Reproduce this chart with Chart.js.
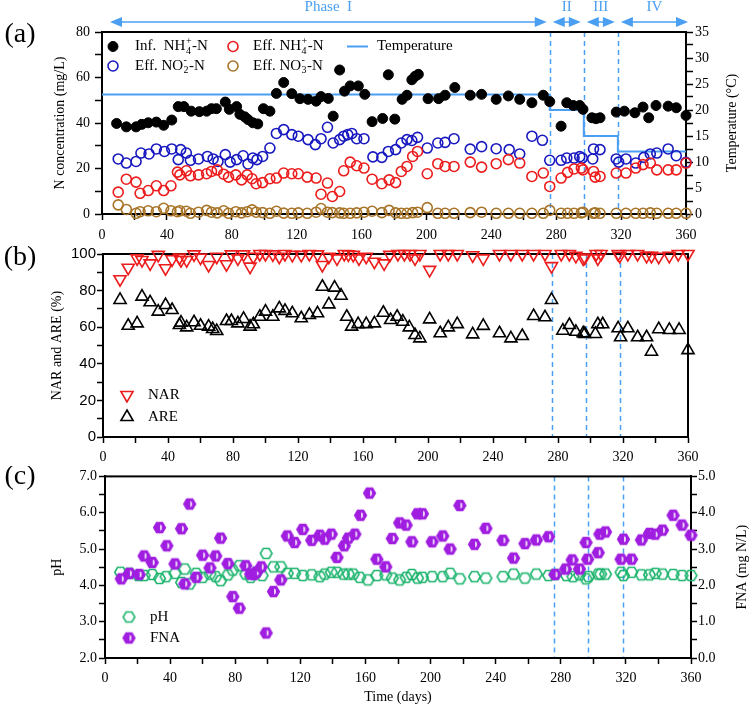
<!DOCTYPE html>
<html>
<head>
<meta charset="utf-8">
<title>Reactor performance</title>
<script src="https://cdn.jsdelivr.net/npm/chart.js@4.4.1/dist/chart.umd.min.js"></script>
<style>
  body { margin: 0; background: #fff; }
  #wrap { position: relative; width: 750px; height: 706px; overflow: hidden; }
  canvas { position: absolute; left: 0; }
</style>
</head>
<body>
<div id="wrap">
  <canvas id="chartA" width="750" height="243" style="top:0"></canvas>
  <canvas id="chartB" width="750" height="223" style="top:243px"></canvas>
  <canvas id="chartC" width="750" height="240" style="top:466px"></canvas>
</div>
<script>
// ---------------- data: panel (a) nitrogen ----------------
const infDays = [9, 15, 21, 24.5, 28.5, 33.5, 38, 43, 47, 50.5, 55, 60, 64.5, 67.5, 70.5, 76, 78.5, 83, 85, 88, 90, 93, 96, 99.5, 103.5, 107.5, 112, 117, 122, 127, 132, 135, 139.5, 142.5, 146.5, 149.5, 153, 158, 162, 166.5, 173, 176.5, 180.5, 185, 188, 191, 193, 195, 201, 207.5, 211.5, 217.5, 227, 234, 243, 250.5, 257.5, 265, 272, 276, 283, 286.5, 290.5, 294.5, 296.5, 302, 304.5, 307, 317, 322, 328.5, 333.5, 337, 341.5, 349, 354, 360];
const infVals = [39.8, 38.3, 38.3, 39.4, 40.1, 40.4, 39.0, 41.3, 47.2, 47.2, 45.2, 45.0, 45.2, 46.3, 46.3, 49.2, 46.0, 47.2, 43.8, 42.7, 41.5, 40.1, 39.6, 46.3, 45.2, 53.0, 57.8, 52.9, 50.7, 50.4, 49.6, 51.6, 50.8, 43.0, 63.3, 54.0, 56.3, 56.3, 52.6, 40.6, 42.0, 61.2, 41.7, 50.4, 52.2, 59.0, 60.5, 61.4, 50.7, 50.7, 52.2, 55.6, 52.2, 52.6, 50.4, 51.9, 50.4, 48.9, 52.2, 49.4, 38.6, 48.9, 47.7, 47.7, 46.0, 42.3, 41.9, 42.3, 44.8, 45.2, 44.5, 47.0, 42.3, 47.7, 47.4, 46.7, 43.3];

const nh4Days = [10, 15, 21, 23.5, 28.5, 33.5, 38, 42.5, 46.5, 48, 52, 54.5, 59.5, 64.5, 67.5, 71, 75, 78, 82.5, 86, 89.5, 92.5, 95, 99, 103.5, 107.5, 112, 117, 121, 126.5, 132, 135, 139, 142, 146.5, 149, 153, 157, 161.5, 166.5, 172.5, 177, 181, 184.5, 188, 191.5, 194.5, 200.5, 207, 211.5, 217, 227, 234, 243, 250.5, 257.5, 265, 272, 276, 283, 287, 291, 295.5, 296.5, 303, 304, 307, 317, 323, 329, 333.5, 338, 342, 349, 354, 360];
const nh4Vals = [9.6, 15.3, 14.0, 9.1, 10.3, 12.4, 10.3, 12.4, 18.4, 17.2, 19.0, 16.8, 17.2, 17.7, 18.7, 19.4, 17.5, 16.2, 17.2, 15.0, 17.2, 15.5, 13.3, 13.8, 15.5, 15.8, 18.0, 17.7, 17.7, 16.2, 15.8, 8.7, 13.6, 7.7, 9.9, 19.0, 22.8, 21.2, 20.2, 15.3, 13.3, 15.0, 13.8, 18.7, 20.9, 25.3, 27.5, 17.7, 22.1, 20.9, 20.9, 22.8, 20.6, 22.1, 23.9, 22.4, 16.5, 18.0, 12.1, 15.8, 18.3, 19.8, 20.2, 19.4, 18.7, 16.2, 16.5, 18.0, 18.0, 20.2, 21.7, 22.4, 19.4, 19.4, 19.4, 22.4];

const no2Days = [10, 15, 21, 24, 29, 33.5, 38.5, 43, 47, 48.5, 52, 54.5, 59.5, 65, 68.5, 71.5, 76, 79, 83, 87, 90, 93, 95.5, 99, 103.5, 107.5, 112, 117, 121, 127, 131.5, 135, 139, 142.5, 146.5, 149, 151.5, 154, 157, 161.5, 167, 172.5, 176.5, 181, 184.5, 188, 191, 194.5, 200.5, 207, 211.5, 217, 227, 234, 243, 251, 257.5, 265, 271.5, 276, 283, 286.5, 291, 294.5, 296, 302.5, 303, 307, 317, 318.5, 323, 329, 334, 338, 342, 349, 354, 360];
const no2Vals = [24.2, 22.4, 23.1, 26.8, 26.4, 28.6, 27.5, 28.6, 23.9, 28.3, 26.8, 23.6, 24.2, 25.3, 24.2, 23.1, 26.1, 22.8, 23.9, 25.6, 22.0, 24.6, 23.9, 25.3, 29.0, 35.4, 37.1, 34.9, 34.2, 32.7, 30.5, 33.1, 38.1, 31.2, 32.7, 34.2, 34.9, 35.4, 33.1, 33.1, 25.1, 24.9, 27.5, 28.3, 31.2, 32.7, 32.3, 33.7, 29.0, 31.2, 31.5, 33.1, 28.5, 29.6, 28.7, 28.3, 26.4, 34.2, 32.4, 23.6, 23.6, 24.6, 24.6, 25.2, 24.6, 24.2, 28.6, 28.3, 24.2, 22.8, 24.2, 22.4, 24.9, 26.4, 26.8, 28.6, 25.6, 22.7];

const no3Days = nh4Days;
const no3Vals = [4.0, 2.0, 0.3, 1.0, 1.4, 1.0, 2.5, 1.4, 1.0, 1.4, 1.2, 0.3, 0.8, 1.6, 0.8, 0.5, 1.4, 0.3, 1.0, 0.5, 1.0, 1.8, 0.8, 0.6, 0.3, 1.2, 0.4, 0.3, 0.5, 0.3, 0.8, 2.4, 0.8, 0.6, 0.5, 0.3, 0.3, 0.5, 0.8, 1.2, 0.6, 1.6, 0.5, 0.3, 0.3, 0.6, 0.8, 2.8, 0.3, 0.3, 0.3, 0.6, 0.8, 0.3, 0.3, 0.3, 0.3, 0.3, 1.6, 0.3, 0.3, 0.3, 0.5, 0.8, 0.3, 0.5, 0.3, 0.3, 0.3, 0.3, 0.3, 0.5, 0.3, 0.3, 0.3, 0.3];

// temperature steps (°C), each value holds until the next day
const tempDays = [0, 276, 297, 318, 360];
const tempVals = [23, 20, 15, 12, 12];

// phase boundaries (days)
const phaseEdges = [0, 276, 297, 318, 360];
const phaseNames = ['Phase  I', 'II', 'III', 'IV'];

// ---------------- data: panel (b) NAR / ARE ----------------
const narDays = [10.5, 15.5, 21, 24, 29, 34, 38.5, 42.5, 47, 48, 51.5, 56, 60, 65, 70, 76, 79, 83, 86.5, 90.5, 92.5, 96.5, 100, 104.5, 108.5, 112, 116.5, 122, 127, 132, 135, 139, 144, 148.5, 151, 154, 157.5, 162, 167, 173, 176.5, 181.5, 185.5, 189, 192, 195, 201, 207.5, 212.5, 218, 227.5, 234, 244, 251, 258, 265, 272, 276, 282, 287, 291, 295.5, 296.5, 303.5, 304.5, 306.5, 317, 318, 323, 329, 334.5, 337.5, 342, 348.5, 354, 360];
const narVals = [86.2, 92.5, 97.6, 96.7, 94.9, 99.5, 92.2, 97.1, 98.0, 96.7, 96.7, 99.8, 98.0, 94.0, 98.5, 94.4, 99.8, 97.6, 99.8, 93.1, 98.5, 100, 100, 99.8, 98.5, 100, 99.5, 99.5, 100, 99.8, 94.0, 98.5, 97.6, 100, 99.8, 99.5, 97.6, 98.5, 95.8, 94.9, 99.5, 100, 100, 100, 97.6, 100, 91.3, 100, 100, 100, 99.3, 97.6, 100, 100, 100, 100, 100, 93.4, 100, 100, 99.0, 97.6, 98.0, 100, 97.6, 100, 100, 99.0, 100, 100, 99.0, 99.0, 98.5, 99.0, 100, 100];

const areDays = [10.5, 15.5, 21, 24, 29, 34, 38.5, 42.5, 47, 48, 51.5, 56, 60, 65, 67.5, 70, 76, 79, 83, 86.5, 90.5, 92.5, 96.5, 100, 104.5, 108.5, 112, 116.5, 122, 127, 132, 135, 139, 142.5, 146.5, 150, 153, 157, 162, 167, 172.5, 177, 181, 184.5, 188.5, 192, 195, 201, 207.5, 212.5, 218, 227.5, 234, 244, 251, 258, 265, 272, 276, 283, 287, 291, 295.5, 296.5, 303, 304.5, 307.5, 317, 318.5, 323, 329, 334.5, 337.5, 342, 348.5, 354.5, 360];
const areVals = [74.9, 60.8, 62.1, 76.7, 73.6, 68.5, 72.1, 69.4, 61.2, 62.5, 59.9, 62.7, 60.8, 60.3, 59.0, 57.9, 63.4, 63.4, 62.1, 64.5, 60.3, 61.6, 65.7, 68.5, 65.7, 70.3, 68.9, 67.6, 64.9, 66.7, 67.6, 82.1, 72.5, 81.6, 77.2, 65.7, 60.3, 61.7, 61.7, 62.1, 67.9, 63.9, 65.7, 63.0, 59.9, 55.7, 53.9, 64.3, 56.7, 59.9, 61.7, 56.1, 60.7, 56.7, 53.9, 55.2, 66.1, 65.4, 74.9, 58.1, 61.2, 57.5, 56.7, 56.3, 56.3, 61.6, 61.6, 59.4, 54.5, 59.4, 54.5, 54.5, 46.6, 58.9, 58.5, 58.5, 47.5];

// ---------------- data: panel (c) pH / FNA ----------------
const phDays = [9.5, 15, 20.5, 24, 29, 33.5, 37.5, 43, 47, 49, 52, 56, 60, 64.5, 68, 71, 75.5, 78.5, 82.5, 86.5, 89.5, 93, 96.5, 99, 103.5, 108, 112, 116.5, 121.5, 127, 132, 135, 139, 142.5, 146.5, 149.5, 152.5, 156.5, 161.5, 167, 172.5, 176.5, 181, 185, 188.5, 192, 195, 201, 207.5, 212, 218, 227, 234, 244.5, 251, 258, 265, 272.5, 276.5, 283.5, 287.5, 291.5, 295.5, 297, 303, 304.5, 307.5, 317, 318.5, 323.5, 329.5, 334.5, 338, 342.5, 349, 354.5, 360];
const phVals = [4.36, 4.33, 4.27, 4.27, 4.30, 4.19, 4.24, 4.33, 4.08, 4.45, 4.04, 4.33, 4.22, 4.31, 4.24, 4.13, 4.29, 4.42, 4.54, 4.31, 4.22, 4.36, 4.27, 4.88, 4.51, 4.51, 4.33, 4.33, 4.27, 4.29, 4.24, 4.31, 4.36, 4.36, 4.31, 4.31, 4.31, 4.22, 4.15, 4.27, 4.29, 4.20, 4.15, 4.22, 4.30, 4.20, 4.22, 4.24, 4.24, 4.33, 4.18, 4.24, 4.20, 4.24, 4.31, 4.20, 4.31, 4.27, 4.30, 4.27, 4.24, 4.29, 4.18, 4.24, 4.31, 4.31, 4.31, 4.36, 4.27, 4.36, 4.29, 4.29, 4.33, 4.31, 4.30, 4.27, 4.27];

const fnaDays = [10, 15, 21, 24, 29, 33.5, 38, 43, 47, 49, 52, 56, 60, 64.5, 68, 71, 75.5, 78.5, 82.5, 86.5, 89.5, 91.5, 93, 96, 99, 103.5, 108, 112, 116.5, 121.5, 127, 132, 135, 139, 142.5, 147, 149.5, 153.5, 157, 162.5, 167, 172.5, 176.5, 181, 185, 188.5, 192, 195, 201, 207.5, 212, 218, 227, 234, 244.5, 251, 258, 265, 272.5, 276.5, 283, 287, 291.5, 295.5, 296.5, 303, 304, 307.5, 317, 318.5, 323.5, 329.5, 334.5, 338, 342.5, 349, 354.5, 360];
const fnaVals = [2.18, 2.33, 2.30, 2.81, 2.63, 3.59, 3.09, 2.59, 3.56, 2.04, 4.24, 2.22, 2.83, 2.48, 2.81, 3.30, 2.60, 1.69, 1.37, 2.54, 2.31, 2.30, 2.36, 2.51, 0.69, 1.83, 2.15, 3.36, 3.18, 3.54, 3.24, 3.38, 3.27, 3.41, 2.77, 3.09, 3.30, 3.41, 3.93, 4.54, 2.72, 2.51, 3.29, 3.72, 3.66, 3.20, 3.97, 3.97, 3.20, 3.36, 3.00, 4.20, 3.13, 3.57, 3.24, 2.75, 3.15, 3.25, 3.34, 2.30, 2.45, 2.70, 2.45, 3.18, 2.72, 2.90, 3.41, 3.47, 2.72, 3.27, 2.72, 3.25, 3.43, 3.41, 3.52, 3.93, 3.66, 3.38];

// ================================================================
// styles
// ================================================================
const SERIF = '"Liberation Serif", "Times New Roman", serif';
const SANS = '"Liberation Sans", Arial, sans-serif';
const LIGHT_BLUE = '#4a9ff2';
const RED = '#ec1c1c';
const NAVY = '#1818c0';
const BROWN = '#a87428';
const GREEN = '#1db46e';
const PURPLE = '#a01ee0';
const NONE = 'rgba(0,0,0,0)';

Chart.defaults.font.family = SERIF;
Chart.defaults.font.size = 14;
Chart.defaults.color = '#000';

function pts(xs, ys) {
    return xs.map((x, i) => ({ x: x, y: ys[i] }));
}

// hexagon markers for panel (c)
function hexMarker(color, filled) {
    const c = document.createElement('canvas');
    c.width = 15; c.height = 15;
    const g = c.getContext('2d');
    g.beginPath();
    for (let i = 0; i < 6; i++) {
        const t = i * Math.PI / 3;
        const px = 7.5 + 5.8 * Math.cos(t), py = 7.5 + 5.8 * Math.sin(t);
        if (i === 0) g.moveTo(px, py); else g.lineTo(px, py);
    }
    g.closePath();
    g.lineWidth = 1.6;
    g.strokeStyle = color;
    if (filled) {
        g.fillStyle = color;
        g.fill();
        g.stroke();
        g.fillStyle = '#fff';
        g.beginPath();
        g.ellipse(8.2, 7.5, 1.6, 3, 0, -Math.PI / 2, Math.PI / 2);
        g.fill();
    } else {
        g.stroke();
    }
    return c;
}

function tickGrid(len) {
    return { drawOnChartArea: false, drawTicks: true, tickLength: len, tickColor: '#000', tickWidth: 1.5 };
}
const axisBorder = { display: true, color: '#000', width: 2 };

function dayAxis(height, pad) {
    return {
        type: 'linear', min: 0, max: 360,
        afterFit: s => { s.height = height; },
        ticks: { stepSize: 20, autoSkip: false, maxRotation: 0, padding: pad,
                 callback: v => (v % 40 === 0 ? v : '') },
        grid: tickGrid(6),
        border: axisBorder
    };
}

function valueAxis(pos, width, min, max, step, major, len, pad, fmt, font) {
    return {
        type: 'linear', position: pos, min: min, max: max,
        afterFit: s => { s.width = width; },
        ticks: { stepSize: step, autoSkip: false, padding: pad, font: font,
                 callback: v => (Math.abs(v / major - Math.round(v / major)) < 1e-6 ? fmt(v) : '') },
        grid: tickGrid(len),
        border: axisBorder
    };
}

// ================================================================
// drawing helpers
// ================================================================
function drawRich(ctx, parts, x, y, size) {
    ctx.textBaseline = 'middle';
    ctx.textAlign = 'left';
    parts.forEach(p => {
        if (typeof p === 'string') {
            ctx.font = size + 'px ' + SERIF;
            ctx.fillText(p, x, y);
            x += ctx.measureText(p).width;
        } else {
            const s = Math.round(size * 0.68);
            ctx.font = s + 'px ' + SERIF;
            ctx.fillText(p.sub, x + 0.5, y + size * 0.32);
            ctx.fillText(p.sup, x + 0.5, y - size * 0.36);
            x += Math.max(ctx.measureText(p.sub).width, ctx.measureText(p.sup).width) + 1;
        }
    });
}

function vText(ctx, text, x, y, size) {
    ctx.save();
    ctx.translate(x, y);
    ctx.rotate(-Math.PI / 2);
    ctx.textAlign = 'center';
    ctx.textBaseline = 'middle';
    ctx.font = size + 'px ' + SERIF;
    ctx.fillText(text, 0, 0);
    ctx.restore();
}

function legendMarker(ctx, ds, x, y) {
    ctx.save();
    if (ds.showLine) {
        ctx.strokeStyle = ds.borderColor;
        ctx.lineWidth = ds.borderWidth;
        ctx.beginPath(); ctx.moveTo(x - 10, y); ctx.lineTo(x + 11, y); ctx.stroke();
    } else {
        ctx.fillStyle = ds.pointBackgroundColor;
        ctx.strokeStyle = ds.pointBorderColor;
        ctx.lineWidth = ds.pointBorderWidth;
        Chart.helpers.drawPoint(ctx, {
            pointStyle: ds.pointStyle, radius: ds.pointRadius,
            rotation: ds.pointRotation || 0, borderWidth: ds.pointBorderWidth
        }, x, y);
    }
    ctx.restore();
}

// panel decorations: frame, phase lines, titles, legend
function decor(cfg) {
    return {
        id: 'decor',
        beforeDatasetsDraw(chart) {
            const ctx = chart.ctx, a = chart.chartArea, xs = chart.scales.x;
            ctx.save();
            ctx.strokeStyle = LIGHT_BLUE;
            ctx.lineWidth = 1.5;
            ctx.setLineDash([5, 4]);
            phaseEdges.slice(1, -1).forEach(d => {
                const px = Math.round(xs.getPixelForValue(d)) + 0.5;
                ctx.beginPath(); ctx.moveTo(px, a.top); ctx.lineTo(px, a.bottom); ctx.stroke();
            });
            ctx.setLineDash([]);
            ctx.strokeStyle = '#000';
            ctx.lineWidth = 2;
            ctx.strokeRect(a.left, a.top, a.right - a.left, a.bottom - a.top);
            ctx.restore();
        },
        afterDraw(chart) {
            const ctx = chart.ctx, a = chart.chartArea, xs = chart.scales.x;
            const midY = (a.top + a.bottom) / 2;
            ctx.save();
            ctx.fillStyle = '#000';
            ctx.font = '28px ' + SERIF;
            ctx.textAlign = 'center';
            ctx.textBaseline = 'middle';
            ctx.fillText(cfg.label, 20, cfg.labelY);

            if (cfg.leftTitle) vText(ctx, cfg.leftTitle, cfg.leftX, midY, 14);
            if (cfg.rightTitle) vText(ctx, cfg.rightTitle, cfg.rightX, midY, 14);
            if (cfg.bottomTitle) {
                ctx.font = '14px ' + SERIF;
                ctx.textAlign = 'center';
                ctx.fillText(cfg.bottomTitle, (a.left + a.right) / 2, cfg.bottomY);
            }

            cfg.legend.forEach(it => {
                const ds = chart.data.datasets[it.ds];
                legendMarker(ctx, ds, it.x, it.y);
                ctx.fillStyle = '#000';
                drawRich(ctx, it.text, it.tx, it.y, 15);
            });

            if (cfg.phases) {
                ctx.strokeStyle = LIGHT_BLUE;
                ctx.fillStyle = LIGHT_BLUE;
                ctx.lineWidth = 1.5;
                const y = 22;
                for (let i = 0; i < phaseEdges.length - 1; i++) {
                    const x1 = xs.getPixelForValue(phaseEdges[i]) + (i === 0 ? 8 : 3);
                    const x2 = xs.getPixelForValue(phaseEdges[i + 1]) - (i === phaseEdges.length - 2 ? -2 : 3);
                    ctx.beginPath(); ctx.moveTo(x1 + 6, y); ctx.lineTo(x2 - 6, y); ctx.stroke();
                    [[x1, 1], [x2, -1]].forEach(([x, dir]) => {
                        ctx.beginPath();
                        ctx.moveTo(x, y);
                        ctx.lineTo(x + dir * 12, y - 5);
                        ctx.lineTo(x + dir * 12, y + 5);
                        ctx.closePath();
                        ctx.fill();
                    });
                    ctx.font = '15px ' + SERIF;
                    ctx.textAlign = 'center';
                    ctx.textBaseline = 'middle';
                    ctx.fillText(phaseNames[i], (x1 + x2) / 2, 7);
                }
            }
            ctx.restore();
        }
    };
}

const baseOptions = (pad, scales) => ({
    responsive: false,
    animation: false,
    events: [],
    layout: { padding: pad },
    plugins: { legend: { display: false }, tooltip: { enabled: false } },
    scales: scales
});

function scatterSet(label, xs, ys, o) {
    return Object.assign({
        label: label, data: pts(xs, ys), clip: false,
        pointStyle: 'circle', pointRadius: 5, pointBorderWidth: 1.6,
        pointBackgroundColor: NONE, pointBorderColor: '#000'
    }, o);
}

// ================================================================
// panel (a)
// ================================================================
new Chart(document.getElementById('chartA'), {
    type: 'scatter',
    data: {
        datasets: [
            scatterSet('Inf. NH4+-N', infDays, infVals, { pointBackgroundColor: '#000', pointBorderColor: '#000', pointBorderWidth: 1 }),
            scatterSet('Eff. NH4+-N', nh4Days, nh4Vals, { pointBorderColor: RED }),
            scatterSet('Eff. NO2--N', no2Days, no2Vals, { pointBorderColor: NAVY }),
            scatterSet('Eff. NO3--N', no3Days, no3Vals, { pointBorderColor: BROWN }),
            {
                label: 'Temperature', data: pts(tempDays, tempVals), yAxisID: 'y2',
                showLine: true, stepped: true, borderColor: LIGHT_BLUE, borderWidth: 2,
                pointRadius: 0, fill: false
            }
        ]
    },
    options: baseOptions({ top: 32, left: 0, right: 0, bottom: 0 }, {
        x: dayAxis(29, 7),
        y: valueAxis('left', 102, 0, 80, 10, 20, 7, 5, v => v),
        y2: valueAxis('right', 64, 0, 35, 2.5, 5, 7, 2, v => v)
    }),
    plugins: [decor({
        label: '(a)', labelY: 35,
        leftTitle: 'N concentration (mg/L)', leftX: 60,
        rightTitle: 'Temperature (°C)', rightX: 732,
        phases: true,
        legend: [
            { ds: 0, x: 113, y: 46.5, tx: 135, text: ['Inf.  NH', { sub: '4', sup: '+' }, '-N'] },
            { ds: 1, x: 233, y: 46.5, tx: 253, text: ['Eff. NH', { sub: '4', sup: '+' }, '-N'] },
            { ds: 4, x: 357, y: 46.5, tx: 377, text: ['Temperature'] },
            { ds: 2, x: 113, y: 66, tx: 135, text: ['Eff. NO', { sub: '2', sup: '-' }, '-N'] },
            { ds: 3, x: 233, y: 66, tx: 253, text: ['Eff. NO', { sub: '3', sup: '-' }, '-N'] }
        ]
    })]
});

// ================================================================
// panel (b)
// ================================================================
new Chart(document.getElementById('chartB'), {
    type: 'scatter',
    data: {
        datasets: [
            scatterSet('NAR', narDays, narVals, { pointStyle: 'triangle', pointRotation: 180, pointRadius: 7, pointBorderColor: RED }),
            scatterSet('ARE', areDays, areVals, { pointStyle: 'triangle', pointRadius: 7, pointBorderColor: '#000' })
        ]
    },
    options: baseOptions({ top: 11, left: 0, right: 62, bottom: 0 }, {
        x: dayAxis(29, 6),
        y: valueAxis('left', 103, 0, 100, 10, 20, 6, 1, v => v, { family: SANS, size: 15 })
    }),
    plugins: [decor({
        label: '(b)', labelY: 14.5,
        leftTitle: 'NAR and ARE (%)', leftX: 57,
        legend: [
            { ds: 0, x: 127, y: 152, tx: 148, text: ['NAR'] },
            { ds: 1, x: 127, y: 174, tx: 148, text: ['ARE'] }
        ]
    })]
});

// ================================================================
// panel (c)
// ================================================================
new Chart(document.getElementById('chartC'), {
    type: 'scatter',
    data: {
        datasets: [
            scatterSet('FNA', fnaDays, fnaVals, { yAxisID: 'y2', pointStyle: hexMarker(PURPLE, true), pointRadius: 6, pointBorderColor: PURPLE, pointBackgroundColor: PURPLE }),
            scatterSet('pH', phDays, phVals, { pointStyle: hexMarker(GREEN, false), pointRadius: 6, pointBorderColor: GREEN })
        ]
    },
    options: baseOptions({ top: 9, left: 0, right: 0, bottom: 0 }, {
        x: dayAxis(48, 6),
        y: valueAxis('left', 105, 2, 7, 0.5, 1, 6, 2, v => v.toFixed(1)),
        y2: valueAxis('right', 59, 0, 5, 0.5, 1, 6, 1, v => v.toFixed(1))
    }),
    plugins: [decor({
        label: '(c)', labelY: 11,
        leftTitle: 'pH', leftX: 57,
        rightTitle: 'FNA (mg N/L)', rightX: 742,
        bottomTitle: 'Time (days)', bottomY: 231,
        legend: [
            { ds: 1, x: 129, y: 151, tx: 150, text: ['pH'] },
            { ds: 0, x: 129, y: 172, tx: 150, text: ['FNA'] }
        ]
    })]
});
</script>
</body>
</html>
